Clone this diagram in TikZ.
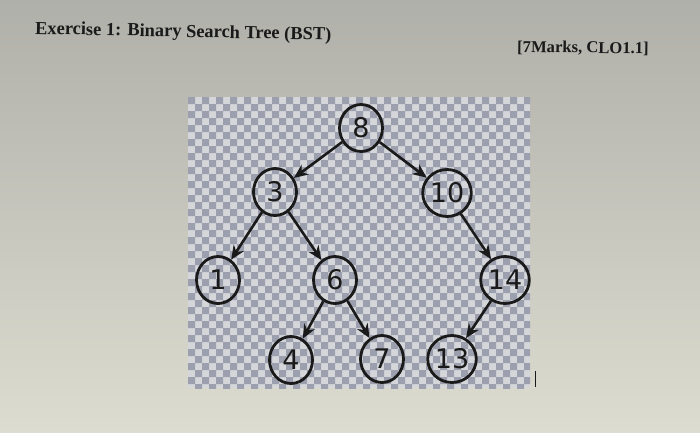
\documentclass[tikz,border=0pt]{standalone}
\usepackage{fontspec}
\setmainfont{Liberation Serif}
\newfontfamily\nodefont{DejaVu Sans}
\usetikzlibrary{arrows.meta,shapes.geometric}
\definecolor{pagetop}{HTML}{B0B0AA}
\definecolor{pagebot}{HTML}{DCDCD0}
\definecolor{chkdark}{HTML}{9C9FAD}
\definecolor{chklight}{HTML}{D4D6DA}
\definecolor{ink}{HTML}{1A1A1A}
\tikzset{
  bstnode/.style={ellipse, draw=ink, line width=2.8pt, minimum width=43pt, minimum height=47pt, inner sep=0pt, font=\nodefont\fontsize{27}{27}\selectfont, text=ink},
  bstedge/.style={draw=ink, line width=2.6pt, -{Stealth[length=14pt,width=12pt]}},
  titletext/.style={font=\bfseries\fontsize{18.4}{18.4}\selectfont, text=ink, inner sep=0pt, anchor=base west}
}
\begin{document}
\begin{tikzpicture}[x=1pt,y=-1pt]
\useasboundingbox (0,0) rectangle (700,432);
\shade[top color=pagetop, bottom color=pagebot] (0,0) rectangle (700,432);
% checkerboard
\fill[chklight] (188,97) rectangle (530,388);
\begin{scope}
\clip (188,97) rectangle (530,388);
\fill[chkdark] \foreach \i in {0,2,...,48} { \foreach \j in {0,2,...,42} {
  (188+7*\i,97+7*\j) rectangle ++(7,7)
  (195+7*\i,104+7*\j) rectangle ++(7,7) } };
\end{scope}
% title texts
\node[titletext, rotate=-1.2] (title) at (35,34) {Exercise 1: Binary Search Tree (BST)};
\node[titletext, font=\bfseries\fontsize{16.6}{16.6}\selectfont, rotate=-0.8] (marks) at (517,52) {[7Marks, CLO1.1]};
% nodes
\node[bstnode] (n8) at (361,128) {8};
\node[bstnode] (n3) at (275,192) {3};
\node[bstnode] (n10) at (447,193) {10};
\node[bstnode] (n1) at (218,280) {1};
\node[bstnode] (n6) at (335,280) {6};
\node[bstnode] (n14) at (505,280) {14};
\node[bstnode] (n4) at (291,360) {4};
\node[bstnode] (n7) at (382,359) {7};
\node[bstnode] (n13) at (452,359) {13};
% edges
\draw[bstedge] (n8) -- (n3);
\draw[bstedge] (n8) -- (n10);
\draw[bstedge] (n3) -- (n1);
\draw[bstedge] (n3) -- (n6);
\draw[bstedge] (n10) -- (n14);
\draw[bstedge] (n6) -- (n4);
\draw[bstedge] (n6) -- (n7);
\draw[bstedge] (n14) -- (n13);
% cursor mark
\coordinate (c1) at (535,371);
\coordinate (c2) at (535,387);
\draw[ink, line width=1pt] (c1) -- (c2);
\end{tikzpicture}
\end{document}
